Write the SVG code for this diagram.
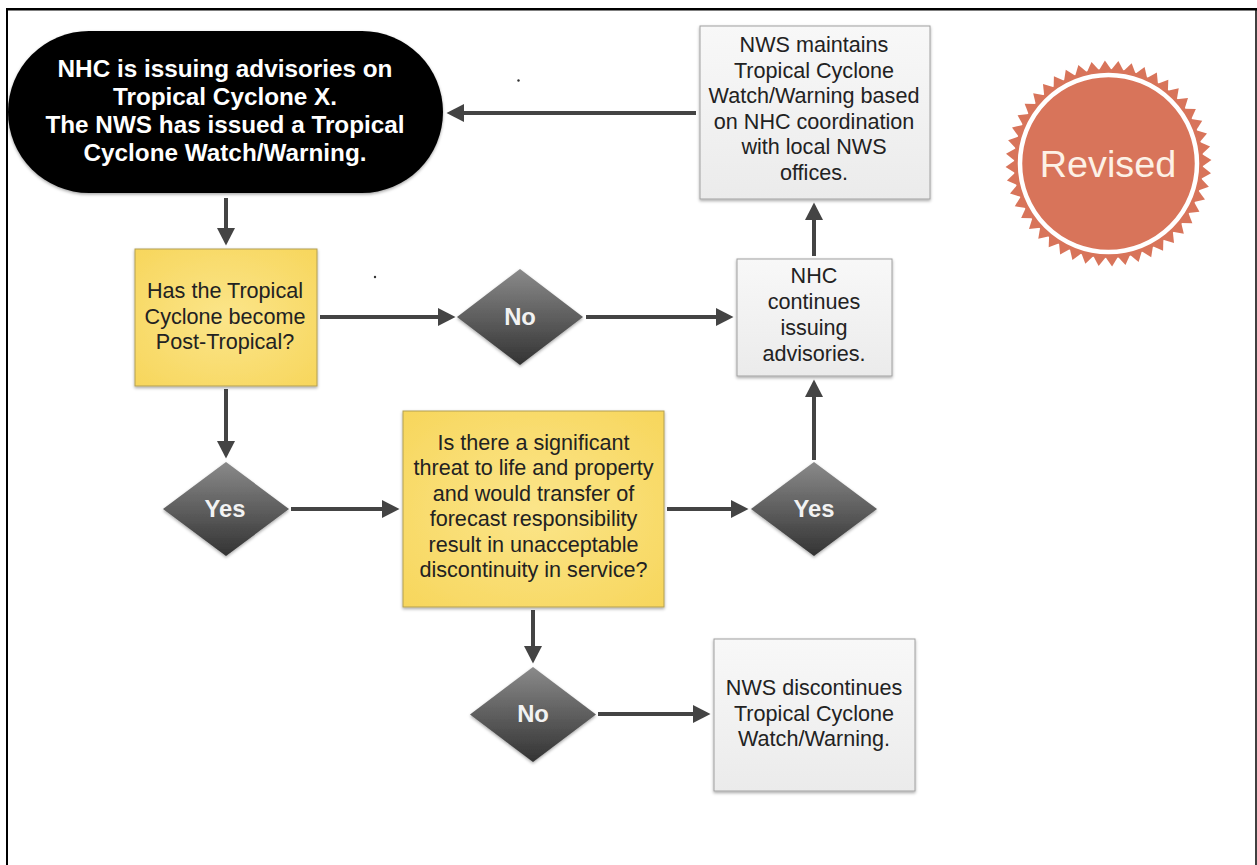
<svg xmlns="http://www.w3.org/2000/svg" xmlns:xlink="http://www.w3.org/1999/xlink" width="1257" height="865" viewBox="0 0 1257 865">
<style>
text{font-family:"Liberation Sans",Arial,sans-serif;text-anchor:middle}
.t{font-size:21.6px;fill:#222}
.w{font-size:24.3px;font-weight:bold;fill:#fff}
.d{font-size:23.800px;font-weight:bold;fill:#f2f2f2}
.y{fill:url(#yel);stroke:#b39f55;stroke-width:1}
.g{fill:url(#gry);stroke:#a0a0a0;stroke-width:1}
.c{stroke:#444;stroke-width:4;fill:none;marker-end:url(#ah)}
</style>
<defs>
<radialGradient id="yel" cx="50%" cy="50%" r="70%"><stop offset="0" stop-color="#fbe58a"/><stop offset="1" stop-color="#f7d65c"/></radialGradient>
<linearGradient id="gry" x1="0" y1="0" x2="0" y2="1"><stop offset="0" stop-color="#f8f8f8"/><stop offset="1" stop-color="#ebebeb"/></linearGradient>
<linearGradient id="dia" x1="0" y1="0" x2="0" y2="1"><stop offset="0" stop-color="#8a8a8a"/><stop offset="1" stop-color="#333"/></linearGradient>
<filter id="sh" x="-10%" y="-10%" width="120%" height="125%"><feDropShadow dx="0" dy="1.5" stdDeviation="1.5" flood-color="#000" flood-opacity=".35"/></filter>
<marker id="ah" markerUnits="userSpaceOnUse" markerWidth="18" markerHeight="20" refX="9" refY="10" orient="auto"><path d="M0 1L17.500 10L0 19Z" fill="#444"/></marker>
<polygon id="t1" points="-6.200 -93.600 0 -103 6.200 -93.600" fill="#d8745a"/>
<g id="t2"><use xlink:href="#t1"/><use xlink:href="#t1" transform="rotate(7.5)"/></g>
<g id="t4"><use xlink:href="#t2"/><use xlink:href="#t2" transform="rotate(15)"/></g>
<g id="t8"><use xlink:href="#t4"/><use xlink:href="#t4" transform="rotate(30)"/></g>
<g id="t16"><use xlink:href="#t8"/><use xlink:href="#t8" transform="rotate(60)"/></g>
</defs>
<rect width="1257" height="865" fill="#fff"/>
<g id="frame" stroke="#000" fill="none">
<path d="M7 865V9" stroke-width="2"/>
<path d="M6 9.200H1257" stroke-width="2.500"/>
<path d="M1256 9V865" stroke-width="1.500"/>
</g>
<circle cx="518.500" cy="80.500" r="1.200" fill="#333"/>
<circle cx="375" cy="277" r="1.200" fill="#333"/>
<g id="connectors">
<path class="c" d="M226 198V237"/>
<path class="c" d="M320 317H447"/>
<path class="c" d="M226 389V450"/>
<path class="c" d="M291 509H391"/>
<path class="c" d="M586 317H725"/>
<path class="c" d="M667 509H740"/>
<path class="c" d="M814 460V388"/>
<path class="c" d="M814 256V211"/>
<path class="c" d="M696 113H455"/>
<path class="c" d="M533 610V655"/>
<path class="c" d="M598 714H702"/>
</g>
<g id="start"><rect x="8" y="31" width="435" height="162" rx="81" fill="#000" filter="url(#sh)"/>
<text class="w" x="225" y="77">NHC is issuing advisories on</text>
<text class="w" x="225" y="104.500">Tropical Cyclone X.</text>
<text class="w" x="225" y="132.500">The NWS has issued a Tropical</text>
<text class="w" x="225" y="160.500">Cyclone Watch/Warning.</text></g>
<g id="q1"><rect class="y" x="135" y="249" width="182" height="137" filter="url(#sh)"/>
<text class="t" x="225" y="298">Has the Tropical</text>
<text class="t" x="225" y="323.500">Cyclone become</text>
<text class="t" x="225" y="349">Post-Tropical?</text></g>
<g id="q2"><rect class="y" x="403" y="411" width="261" height="196" filter="url(#sh)"/>
<text class="t" x="533.500" y="449.500">Is there a significant</text>
<text class="t" x="533.500" y="475">threat to life and property</text>
<text class="t" x="533.500" y="500.500">and would transfer of</text>
<text class="t" x="533.500" y="526">forecast responsibility</text>
<text class="t" x="533.500" y="551.500">result in unacceptable</text>
<text class="t" x="533.500" y="577">discontinuity in service?</text></g>
<g id="no1"><polygon points="520,269 583,317 520,365 457,317" fill="url(#dia)" filter="url(#sh)"/><text class="d" x="520" y="325">No</text></g>
<g id="yes1"><polygon points="226,462 289,509 226,556 163,509" fill="url(#dia)" filter="url(#sh)"/><text class="d" x="225" y="517">Yes</text></g>
<g id="yes2"><polygon points="814,462 877,509 814,556 751,509" fill="url(#dia)" filter="url(#sh)"/><text class="d" x="814" y="517">Yes</text></g>
<g id="no2"><polygon points="533,667 596,714.500 533,762 470,714.500" fill="url(#dia)" filter="url(#sh)"/><text class="d" x="533" y="722">No</text></g>
<g id="maintain"><rect class="g" x="700" y="26" width="230" height="173" filter="url(#sh)"/>
<text class="t" x="814" y="52">NWS maintains</text>
<text class="t" x="814" y="77.500">Tropical Cyclone</text>
<text class="t" x="814" y="103">Watch/Warning based</text>
<text class="t" x="814" y="128.500">on NHC coordination</text>
<text class="t" x="814" y="154">with local NWS</text>
<text class="t" x="814" y="180">offices.</text></g>
<g id="continue"><rect class="g" x="737" y="259" width="155" height="117" filter="url(#sh)"/>
<text class="t" x="814" y="283">NHC</text>
<text class="t" x="814" y="309">continues</text>
<text class="t" x="814" y="335">issuing</text>
<text class="t" x="814" y="360.500">advisories.</text></g>
<g id="discontinue"><rect class="g" x="714" y="639" width="201" height="152" filter="url(#sh)"/>
<text class="t" x="814" y="695">NWS discontinues</text>
<text class="t" x="814" y="720.500">Tropical Cyclone</text>
<text class="t" x="814" y="746">Watch/Warning.</text></g>
<g id="revised">
<g transform="translate(1108.500 163.500) rotate(-2)"><use xlink:href="#t16"/><use xlink:href="#t16" transform="rotate(120)"/><use xlink:href="#t16" transform="rotate(240)"/></g>
<circle cx="1108.500" cy="163.500" r="94.500" fill="#d8745a"/>
<circle cx="1108.500" cy="163.500" r="88.500" fill="none" stroke="#fff" stroke-width="4.500"/>
<text x="1108" y="177" font-size="37.800" fill="#fdf1e6">Revised</text>
</g>
</svg>
